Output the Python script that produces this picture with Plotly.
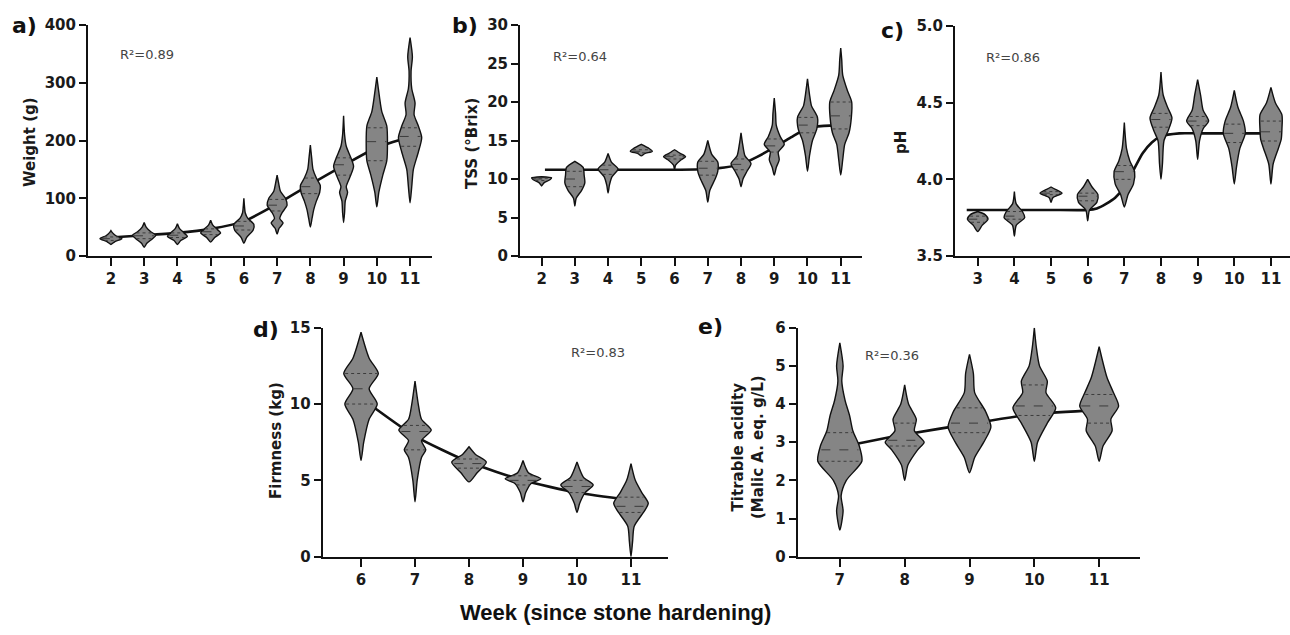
import numpy as np
import plotly.graph_objects as go

W, H = 1290, 635

# ---------------- data ----------------
# violin profiles: (value, half-width in weeks) from bottom to top
weight_weeks = [2, 3, 4, 5, 6, 7, 8, 9, 10, 11]
weight_shapes = [
    [(20, 0), (25, 0.12), (30, 0.33), (35, 0.15), (40, 0.05), (44, 0)],
    [(15, 0), (22, 0.08), (30, 0.25), (36, 0.35), (42, 0.2), (50, 0.06), (58, 0)],
    [(20, 0), (27, 0.1), (34, 0.3), (40, 0.2), (48, 0.06), (56, 0)],
    [(24, 0), (32, 0.12), (40, 0.3), (46, 0.2), (54, 0.06), (62, 0)],
    [(22, 0), (32, 0.08), (45, 0.28), (55, 0.3), (65, 0.12), (75, 0.04), (85, 0.02), (100, 0)],
    [(38, 0), (48, 0.06), (57, 0.18), (65, 0.08), (75, 0.15), (88, 0.3), (100, 0.25), (112, 0.1), (125, 0.05), (140, 0)],
    [(50, 0), (65, 0.05), (80, 0.1), (95, 0.18), (110, 0.28), (122, 0.3), (135, 0.18), (150, 0.08), (170, 0.04), (192, 0)],
    [(58, 0), (75, 0.03), (95, 0.05), (110, 0.12), (120, 0.08), (135, 0.18), (155, 0.3), (170, 0.22), (190, 0.08), (210, 0.03), (243, 0)],
    [(85, 0), (110, 0.06), (140, 0.18), (165, 0.3), (195, 0.32), (225, 0.3), (250, 0.15), (275, 0.08), (310, 0)],
    [(92, 0), (120, 0.05), (150, 0.1), (180, 0.25), (205, 0.35), (225, 0.25), (245, 0.12), (265, 0.15), (290, 0.05), (320, 0.03), (345, 0.07), (378, 0)],
]
weight_median = [30, 35, 36, 42, 52, 88, 120, 158, 198, 207]
weight_q1 = [27, 30, 32, 37, 45, 78, 108, 140, 165, 190]
weight_q3 = [33, 40, 40, 47, 60, 98, 135, 170, 222, 222]
weight_fit_x = [2, 3, 4, 5, 6, 7, 8, 9, 10, 11]
weight_fit_y = [32, 36, 40, 47, 60, 90, 124, 157, 188, 206]

tss_weeks = [2, 3, 4, 5, 6, 7, 8, 9, 10, 11]
tss_shapes = [
    [(9.1, 0), (9.5, 0.07), (9.9, 0.25), (10.15, 0.3), (10.3, 0)],
    [(6.5, 0), (7.5, 0.04), (8.5, 0.2), (9.5, 0.3), (10.5, 0.28), (11.5, 0.25), (12.3, 0)],
    [(8.2, 0), (9.2, 0.04), (10.3, 0.12), (11.3, 0.3), (12.2, 0.1), (13.3, 0)],
    [(13.0, 0), (13.3, 0.1), (13.6, 0.33), (14.0, 0.22), (14.5, 0)],
    [(11.2, 0), (11.8, 0.03), (12.5, 0.2), (12.9, 0.33), (13.3, 0.18), (13.8, 0)],
    [(7.0, 0), (8.5, 0.06), (10.0, 0.22), (11.0, 0.3), (12.2, 0.3), (13.2, 0.12), (15.0, 0)],
    [(9.0, 0), (10.0, 0.06), (11.0, 0.18), (12.0, 0.3), (13.0, 0.12), (14.5, 0.05), (16.0, 0)],
    [(10.5, 0), (11.5, 0.06), (12.5, 0.15), (13.5, 0.12), (14.5, 0.3), (15.5, 0.18), (17.0, 0.06), (18.5, 0.04), (20.5, 0)],
    [(11.0, 0), (13.0, 0.06), (15.0, 0.15), (16.5, 0.28), (18.0, 0.3), (19.5, 0.12), (21.0, 0.06), (23.0, 0)],
    [(10.5, 0), (12.5, 0.06), (14.5, 0.12), (16.0, 0.25), (18.0, 0.32), (20.0, 0.33), (21.5, 0.2), (23.5, 0.06), (25.5, 0.03), (27.0, 0)],
]
tss_median = [10.0, 10.0, 11.2, 13.6, 12.9, 11.4, 11.9, 14.3, 17.0, 18.2]
tss_q1 = [9.8, 9.0, 10.6, 13.4, 12.6, 10.5, 11.2, 13.5, 16.0, 16.5]
tss_q3 = [10.1, 11.0, 11.8, 13.8, 13.1, 12.3, 12.6, 15.2, 18.0, 20.0]
tss_fit_x = [2.1, 3, 4, 5, 6, 7, 7.5, 8, 8.5, 9, 9.5, 10, 10.5, 11]
tss_fit_y = [11.2, 11.2, 11.2, 11.2, 11.2, 11.3, 11.5, 11.9, 12.9, 14.1, 15.4, 16.6, 16.9, 17.0]

ph_weeks = [3, 4, 5, 6, 7, 8, 9, 10, 11]
ph_shapes = [
    [(3.66, 0), (3.70, 0.12), (3.74, 0.28), (3.77, 0.2), (3.79, 0)],
    [(3.63, 0), (3.70, 0.05), (3.75, 0.28), (3.79, 0.22), (3.84, 0.05), (3.92, 0)],
    [(3.85, 0), (3.88, 0.05), (3.91, 0.3), (3.935, 0.12), (3.95, 0)],
    [(3.73, 0), (3.80, 0.05), (3.85, 0.25), (3.90, 0.28), (3.95, 0.12), (4.0, 0)],
    [(3.82, 0), (3.90, 0.1), (3.97, 0.25), (4.05, 0.28), (4.12, 0.15), (4.20, 0.06), (4.37, 0)],
    [(4.0, 0), (4.1, 0.04), (4.25, 0.08), (4.32, 0.2), (4.40, 0.3), (4.47, 0.18), (4.55, 0.06), (4.70, 0)],
    [(4.13, 0), (4.25, 0.05), (4.33, 0.15), (4.38, 0.3), (4.45, 0.15), (4.55, 0.08), (4.65, 0)],
    [(3.97, 0), (4.08, 0.06), (4.2, 0.15), (4.3, 0.3), (4.38, 0.25), (4.47, 0.1), (4.58, 0)],
    [(3.97, 0), (4.1, 0.06), (4.2, 0.2), (4.26, 0.28), (4.33, 0.3), (4.42, 0.3), (4.5, 0.12), (4.6, 0)],
]
ph_median = [3.74, 3.76, 3.91, 3.89, 4.05, 4.39, 4.38, 4.30, 4.31]
ph_q1 = [3.72, 3.74, 3.90, 3.86, 4.00, 4.34, 4.35, 4.24, 4.25]
ph_q3 = [3.76, 3.79, 3.92, 3.91, 4.09, 4.43, 4.41, 4.36, 4.38]
ph_fit_x = [2.7, 3, 4, 5, 6, 6.25, 6.5, 6.75, 7, 7.25, 7.5, 7.75, 8, 8.5, 9, 10, 11]
ph_fit_y = [3.80, 3.80, 3.80, 3.80, 3.80, 3.81, 3.84, 3.88, 3.95, 4.06, 4.17, 4.24, 4.28, 4.30, 4.30, 4.30, 4.30]

firm_weeks = [6, 7, 8, 9, 10, 11]
firm_shapes = [
    [(6.3, 0), (7.5, 0.05), (9.0, 0.15), (10.0, 0.3), (11.0, 0.15), (12.0, 0.32), (13.0, 0.15), (14.7, 0)],
    [(3.6, 0), (5.0, 0.04), (6.5, 0.12), (7.0, 0.2), (7.6, 0.12), (8.3, 0.3), (9.0, 0.12), (10.0, 0.06), (11.5, 0)],
    [(4.9, 0), (5.5, 0.15), (6.2, 0.32), (6.7, 0.12), (7.2, 0)],
    [(3.6, 0), (4.2, 0.05), (4.8, 0.15), (5.1, 0.33), (5.5, 0.1), (6.3, 0)],
    [(2.9, 0), (3.5, 0.05), (4.2, 0.15), (4.7, 0.3), (5.2, 0.12), (6.2, 0)],
    [(0.0, 0), (1.0, 0.03), (2.0, 0.06), (3.0, 0.25), (3.5, 0.32), (4.2, 0.2), (5.0, 0.08), (6.1, 0)],
]
firm_median = [11.0, 8.2, 6.1, 5.0, 4.6, 3.3]
firm_q1 = [10.0, 7.0, 5.8, 4.7, 4.2, 2.9]
firm_q3 = [12.0, 8.6, 6.4, 5.3, 5.0, 3.9]
firm_fit_x = [6, 7, 8, 9, 10, 11]
firm_fit_y = [10.4, 7.9, 6.2, 5.0, 4.2, 3.7]

acid_weeks = [7, 8, 9, 10, 11]
acid_shapes = [
    [(0.7, 0), (1.2, 0.05), (1.6, 0.02), (2.0, 0.1), (2.5, 0.34), (2.9, 0.3), (3.3, 0.2), (3.7, 0.15), (4.1, 0.08), (4.6, 0.03), (5.0, 0.05), (5.6, 0)],
    [(2.0, 0), (2.4, 0.05), (2.8, 0.2), (3.0, 0.3), (3.3, 0.15), (3.6, 0.18), (4.0, 0.06), (4.5, 0)],
    [(2.2, 0), (2.6, 0.08), (3.0, 0.22), (3.4, 0.33), (3.8, 0.25), (4.3, 0.08), (4.8, 0.06), (5.3, 0)],
    [(2.5, 0), (3.0, 0.05), (3.5, 0.2), (3.9, 0.33), (4.3, 0.18), (4.6, 0.2), (5.0, 0.08), (5.5, 0.03), (6.0, 0)],
    [(2.5, 0), (2.9, 0.06), (3.3, 0.2), (3.6, 0.18), (3.95, 0.3), (4.3, 0.22), (4.7, 0.12), (5.5, 0)],
]
acid_median = [2.8, 3.05, 3.5, 3.95, 3.95]
acid_q1 = [2.5, 2.9, 3.25, 3.7, 3.5]
acid_q3 = [3.25, 3.5, 3.9, 4.5, 4.25]
acid_fit_x = [7, 8, 9, 10, 11]
acid_fit_y = [2.87, 3.2, 3.48, 3.74, 3.84]

r2_labels = ["R²=0.89", "R²=0.64", "R²=0.86", "R²=0.83", "R²=0.36"]
panel_letters = ["a)", "b)", "c)", "d)", "e)"]
y_titles = ["Weight (g)", "TSS (°Brix)", "pH", "Firmness (kg)", "Titrable acidity<br>(Malic A. eq. g/L)"]
x_title = "Week (since stone hardening)"

# ---------------- layout helpers ----------------
def px(x):
    return x / W

def py(y):
    return 1 - y / H

panels = [
    dict(weeks=weight_weeks, shapes=weight_shapes, med=weight_median, q1=weight_q1, q3=weight_q3,
         fx=weight_fit_x, fy=weight_fit_y,
         xdom=(88, 432), ydom=(25, 256), xr=(1.31, 11.66), yr=(0, 400), ytv=[0, 100, 200, 300, 400], yfmt=None,
         title_pos=(30, 142), letter_pos=(24, 25), r2_pos=(147, 55)),
    dict(weeks=tss_weeks, shapes=tss_shapes, med=tss_median, q1=tss_q1, q3=tss_q3,
         fx=tss_fit_x, fy=tss_fit_y,
         xdom=(520, 862), ydom=(25, 256), xr=(1.35, 11.64), yr=(0, 30), ytv=[0, 5, 10, 15, 20, 25, 30], yfmt=None,
         title_pos=(472, 144), letter_pos=(465, 26), r2_pos=(580, 56)),
    dict(weeks=ph_weeks, shapes=ph_shapes, med=ph_median, q1=ph_q1, q3=ph_q3,
         fx=ph_fit_x, fy=ph_fit_y,
         xdom=(955, 1290), ydom=(26, 256), xr=(2.38, 11.52), yr=(3.5, 5.0), ytv=[3.5, 4.0, 4.5, 5.0], yfmt=".1f",
         title_pos=(901, 143), letter_pos=(892, 30), r2_pos=(1013, 57)),
    dict(weeks=firm_weeks, shapes=firm_shapes, med=firm_median, q1=firm_q1, q3=firm_q3,
         fx=firm_fit_x, fy=firm_fit_y,
         xdom=(322.7, 667.7), ydom=(327.7, 556.7), xr=(5.29, 11.68), yr=(0, 15), ytv=[0, 5, 10, 15], yfmt=None,
         title_pos=(276, 441), letter_pos=(266, 329), r2_pos=(598, 352)),
    dict(weeks=acid_weeks, shapes=acid_shapes, med=acid_median, q1=acid_q1, q3=acid_q3,
         fx=acid_fit_x, fy=acid_fit_y,
         xdom=(797.7, 1140), ydom=(327.7, 556.7), xr=(6.35, 11.63), yr=(0, 6), ytv=[0, 1, 2, 3, 4, 5, 6], yfmt=None,
         title_pos=(748, 447), letter_pos=(710, 327), r2_pos=(892, 355)),
]

FILL = "#858585"
TICKFONT = dict(family="DejaVu Sans", size=15, color="#1a1a1a", weight="bold")

fig = go.Figure()
annotations = []
layout = {}

for i, p in enumerate(panels):
    n = "" if i == 0 else str(i + 1)
    xa, ya = "x" + n, "y" + n
    # fitted curve (behind violins)
    fig.add_trace(go.Scatter(x=p["fx"], y=p["fy"], mode="lines", xaxis=xa, yaxis=ya,
                             line=dict(color="#111111", width=2.6, shape="spline", smoothing=0.6),
                             hoverinfo="skip", showlegend=False))
    for wk, shp, md, a1, a3 in zip(p["weeks"], p["shapes"], p["med"], p["q1"], p["q3"]):
        ys = [s[0] for s in shp]
        ws = [s[1] for s in shp]
        vx = [wk + w for w in ws] + [wk - w for w in ws[::-1]]
        vy = ys + ys[::-1]
        fig.add_trace(go.Scatter(x=vx, y=vy, mode="lines", fill="toself", fillcolor=FILL,
                                 xaxis=xa, yaxis=ya,
                                 line=dict(color="#111111", width=1.4, shape="spline", smoothing=0.7),
                                 hoverinfo="skip", showlegend=False))
        for val, dash in ((a1, "dot"), (md, "dash"), (a3, "dot")):
            hw = float(np.interp(val, ys, ws)) * 0.92
            fig.add_trace(go.Scatter(x=[wk - hw, wk + hw], y=[val, val], mode="lines",
                                     xaxis=xa, yaxis=ya,
                                     line=dict(color="#3c3c3c", width=1, dash=dash),
                                     hoverinfo="skip", showlegend=False))

    layout["xaxis" + n] = dict(
        domain=[px(p["xdom"][0]), px(p["xdom"][1])], anchor=ya, range=list(p["xr"]),
        tickmode="array", tickvals=p["weeks"], ticktext=[str(w) for w in p["weeks"]],
        showline=True, linecolor="#111111", linewidth=2, ticks="outside", ticklen=8, tickwidth=2,
        tickcolor="#111111", showgrid=False, zeroline=False, tickfont=TICKFONT, fixedrange=True,
        automargin=False)
    layout["yaxis" + n] = dict(
        domain=[py(p["ydom"][1]), py(p["ydom"][0])], anchor=xa, range=list(p["yr"]),
        tickmode="array", tickvals=p["ytv"],
        ticktext=[(format(v, p["yfmt"]) if p["yfmt"] else str(v)) for v in p["ytv"]],
        showline=True, linecolor="#111111", linewidth=2, ticks="outside", ticklen=7, tickwidth=2,
        tickcolor="#111111", showgrid=False, zeroline=False, tickfont=TICKFONT, fixedrange=True,
        automargin=False)

    tx, ty = p["title_pos"]
    annotations.append(dict(x=px(tx), y=py(ty), xref="paper", yref="paper", text=y_titles[i],
                            textangle=-90, showarrow=False, xanchor="center", yanchor="middle",
                            font=dict(family="DejaVu Sans", size=15, color="#1a1a1a", weight="bold")))
    lx, ly = p["letter_pos"]
    annotations.append(dict(x=px(lx), y=py(ly), xref="paper", yref="paper", text=panel_letters[i],
                            showarrow=False, xanchor="center", yanchor="middle",
                            font=dict(family="DejaVu Sans", size=22, color="#111111", weight="bold")))
    rx, ry = p["r2_pos"]
    annotations.append(dict(x=px(rx), y=py(ry), xref="paper", yref="paper", text=r2_labels[i],
                            showarrow=False, xanchor="center", yanchor="middle",
                            font=dict(family="DejaVu Sans", size=13, color="#444444")))

annotations.append(dict(x=px(615), y=py(612), xref="paper", yref="paper", text=x_title,
                        showarrow=False, xanchor="center", yanchor="middle",
                        font=dict(family="Liberation Sans", size=22, color="#111111", weight="bold")))

fig.update_layout(**layout)
fig.update_layout(width=W, height=H, margin=dict(l=0, r=0, t=0, b=0, autoexpand=False),
                  paper_bgcolor="white", plot_bgcolor="white", annotations=annotations,
                  showlegend=False)

fig.write_html("out.html", config={"displayModeBar": False},
               post_script="document.body.style.margin='0';document.body.style.overflow='hidden';")
